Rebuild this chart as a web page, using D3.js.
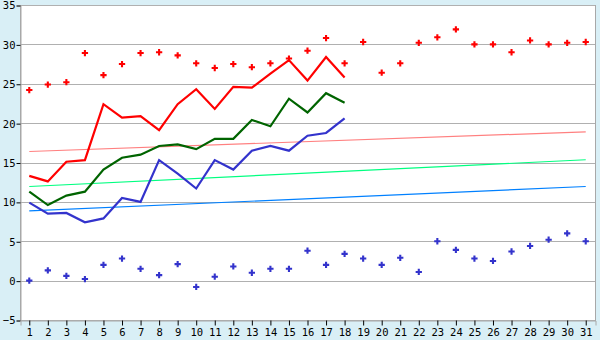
<!DOCTYPE html>
<html>
<head>
<meta charset="utf-8">
<script src="https://cdn.jsdelivr.net/npm/d3@7"></script>
<style>
  body { margin: 0; background: #d9eff6; }
</style>
</head>
<body>
<div class="chart"></div>
<script>
// days of month
const days = d3.range(1, 32)
// daily max (red points), daily min (blue points)
const maxPoints = [24.2, 24.9, 25.2, 28.9, 26.1, 27.5, 28.9, 29.0, 28.6, 27.6, 27.0, 27.5, 27.1, 27.6, 28.2, 29.2,
    30.8, 27.6, 30.3, 26.4, 27.6, 30.2, 30.9, 31.9, 30.0, 30.0, 29.0, 30.5, 30.0, 30.2, 30.3]
const minPoints = [0.0, 1.3, 0.6, 0.2, 2.0, 2.8, 1.5, 0.7, 2.1, -0.8, 0.5, 1.8, 1.0, 1.5, 1.5, 3.8,
    2.0, 3.4, 2.8, 2.0, 2.9, 1.1, 5.0, 3.9, 2.8, 2.5, 3.7, 4.4, 5.2, 6.0, 5.0]
// lines for days 1..18
const redLine = [13.3, 12.6, 15.1, 15.3, 22.4, 20.7, 20.9, 19.1, 22.4, 24.3, 21.8, 24.6, 24.5, 26.3, 28.0, 25.4, 28.4, 25.8]
const greenLine = [11.3, 9.6, 10.8, 11.3, 14.1, 15.6, 16.0, 17.1, 17.3, 16.7, 18.0, 18.0, 20.4, 19.6, 23.1, 21.35, 23.8, 22.6]
const blueLine = [9.9, 8.5, 8.6, 7.4, 7.9, 10.5, 10.0, 15.3, 13.6, 11.7, 15.3, 14.1, 16.5, 17.1, 16.5, 18.4, 18.75, 20.6]
// trend lines: value at day 1 and day 31
const trends = [
    { color: "#ff8080", from: 16.4, to: 18.9 },
    { color: "#00ff80", from: 11.95, to: 15.35 },
    { color: "#0080ff", from: 8.85, to: 11.95 }
]
const yTicks = [-5, 0, 5, 10, 15, 20, 25, 30, 35]

let width = 600, height = 340
let margin = { left: 20, right: 5, top: 5, bottom: 20 }
let font = "DejaVu Sans Mono"

let svg = d3.select(".chart")
    .append("svg")
    .attr("width", width)
    .attr("height", height)

svg.append("rect")
    .attr("width", width).attr("height", height)
    .attr("fill", "#d9eff6")

let x = d3.scaleBand()
    .domain(days)
    .range([margin.left, width - margin.right])
let cx = d => x(d) + x.bandwidth() / 2
let y = d3.scaleLinear()
    .domain([-5, 35])
    .range([height - margin.bottom, margin.top])

// plot area
svg.append("rect")
    .attr("x", margin.left + 0.5)
    .attr("y", margin.top + 0.5)
    .attr("width", width - margin.left - margin.right)
    .attr("height", height - margin.top - margin.bottom)
    .attr("fill", "#fff")
    .attr("stroke", "#a8a8a8")

// grid
svg.append("g")
    .selectAll("line")
    .data(yTicks)
    .enter()
    .append("line")
    .attr("x1", margin.left)
    .attr("x2", width - margin.right)
    .attr("y1", d => Math.round(y(d)) + 0.5)
    .attr("y2", d => Math.round(y(d)) + 0.5)
    .attr("stroke", "#b0b0b0")

// y axis
let yAxis = svg.append("g")
    .attr("transform", `translate(${margin.left + 0.5},0.5)`)
    .call(d3.axisLeft(y).tickValues(yTicks).tickSize(4).tickPadding(1).tickFormat(d3.format("d")))
yAxis.select(".domain").attr("stroke", "#a8a8a8")
yAxis.selectAll(".tick line").attr("stroke", "#000")
yAxis.selectAll("text").attr("font-size", 10.5).attr("fill", "#000").attr("font-family", font)

// x axis
let xAxis = svg.append("g")
    .attr("transform", `translate(0.5,${height - margin.bottom + 0.5})`)
    .call(d3.axisBottom(x).tickSize(5).tickPadding(3))
xAxis.select(".domain").attr("stroke", "#a8a8a8")
xAxis.selectAll(".tick line").attr("stroke", "#000")
xAxis.selectAll("text").attr("font-size", 10.5).attr("fill", "#000").attr("font-family", font)

// trend lines
svg.append("g")
    .selectAll("line")
    .data(trends)
    .enter()
    .append("line")
    .attr("x1", cx(days[0]))
    .attr("x2", cx(days[days.length - 1]))
    .attr("y1", d => y(d.from))
    .attr("y2", d => y(d.to))
    .attr("stroke", d => d.color)
    .attr("stroke-width", 1.2)

// lines
let line = d3.line()
    .x((d, i) => cx(days[i]))
    .y(d => y(d))
let series = [
    { values: redLine, color: "#ff0000" },
    { values: greenLine, color: "#006400" },
    { values: blueLine, color: "#3333cc" }
]
svg.append("g")
    .selectAll("path")
    .data(series)
    .enter()
    .append("path")
    .attr("d", d => line(d.values))
    .attr("fill", "none")
    .attr("stroke", d => d.color)
    .attr("stroke-width", 2.2)

// point markers
let cross = d3.symbol().type(d3.symbolCross).size(22)
svg.append("g")
    .selectAll("path")
    .data(maxPoints)
    .enter()
    .append("path")
    .attr("d", cross)
    .attr("transform", (d, i) => `translate(${cx(days[i])},${y(d)})`)
    .attr("fill", "#ff0000")
svg.append("g")
    .selectAll("path")
    .data(minPoints)
    .enter()
    .append("path")
    .attr("d", cross)
    .attr("transform", (d, i) => `translate(${cx(days[i])},${y(d)})`)
    .attr("fill", "#3333cc")
</script>
</body>
</html>
